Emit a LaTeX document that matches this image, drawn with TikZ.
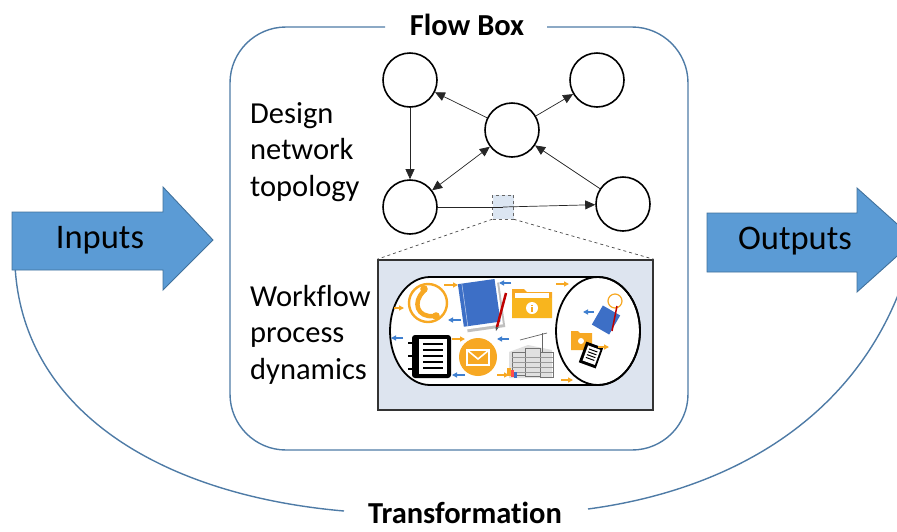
\documentclass[tikz,border=0pt]{standalone}
\usepackage{fontspec}
\setmainfont{Carlito}[Ligatures=CommonOff]
\usetikzlibrary{arrows.meta,calc}
\definecolor{arrowblue}{HTML}{5B9BD5}
\definecolor{arrowedge}{HTML}{41719C}
\definecolor{framecol}{HTML}{4E7BA6}
\definecolor{wffill}{HTML}{DDE4EF}
\definecolor{iconorange}{HTML}{F7A823}
\definecolor{iconblue}{HTML}{3D6FC6}
\definecolor{arrblue}{HTML}{3F7FCF}
\definecolor{sqfill}{HTML}{DCE6F2}
\begin{document}
\begin{tikzpicture}[x=1pt,y=-1pt,
  bigarrow/.style={fill=arrowblue, draw=arrowedge, line width=0.9pt},
  bigtext/.style={font=\fontsize{34.5}{40}\selectfont},
  sidetext/.style={font=\fontsize{30.5}{36.5}\selectfont, align=left, inner sep=0pt},
  titletext/.style={font=\fontsize{30.5}{34}\selectfont\bfseries, inner sep=0pt},
  netnode/.style={circle, draw=black, line width=1.6pt, minimum size=54pt, inner sep=0pt, fill=white},
  netedge/.style={line width=0.7pt, draw=black!85, -{Triangle[length=10pt,width=9pt]}},
  frameline/.style={draw=framecol, line width=1.4pt},
  smallor/.style={draw=iconorange, line width=1.3pt, -{Triangle[length=5pt,width=5pt]}},
  smallbl/.style={draw=arrblue, line width=1.3pt, -{Triangle[length=5pt,width=5pt]}},
]
\useasboundingbox (0,0) rectangle (897,531);
\clip (0,0) rectangle (897,531);

% flow box frame with a gap for its title
\draw[frameline, rounded corners=56] (385,27) -- (230,27) -- (230,450) -- (688,450) -- (688,27) -- (547,27);
\node[titletext] (flowtitle) at (467,25) {Flow Box};

% transformation arc
\node[titletext, anchor=base] (trans) at (465,523) {Transformation};
\draw[frameline] (15,265) .. controls (22,410) and (160,495) .. (344,511);
\draw[frameline] (588,509) .. controls (730,490) and (850,420) .. (900,290);

% input and output arrows
\draw[bigarrow] (12,212) -- (163,212) -- (163,187) -- (213,240) -- (163,290) -- (163,270) -- (12,270) -- cycle;
\node[bigtext] (inputs) at (100,240) {Inputs};
\draw[bigarrow] (707,213) -- (857,213) -- (857,188) -- (915,240) -- (857,292) -- (857,272) -- (707,272) -- cycle;
\node[bigtext] (outputs) at (795,241) {Outputs};

% side labels
\node[sidetext, anchor=north west] (design) at (250,102) {Design\\network\\topology};
\node[sidetext, anchor=north west] (workflow) at (250,285) {Workflow\\process\\dynamics};

% network topology
\node[netnode] (tl) at (410,80) {};
\node[netnode] (tr) at (597,80) {};
\node[netnode] (c) at (512,130) {};
\node[netnode] (bl) at (410,207) {};
\node[netnode] (br) at (623,204) {};
\node[draw=black!60, dashed, fill=sqfill, minimum width=21pt, minimum height=24pt, inner sep=0pt, line width=0.5pt] (sq) at (503,207) {};

\draw[netedge] (c) -- (tl);
\draw[netedge] (c) -- (tr);
\draw[netedge] (tl) -- (bl);
\draw[netedge, {Triangle[length=10pt,width=9pt]}-{Triangle[length=10pt,width=9pt]}] (bl) -- (c);
\draw[netedge] (br) -- (c);
\draw[line width=0.7pt, black!85] (bl) -- (sq.center);
\draw[netedge] (sq.center) -- (br);

% workflow panel
\node[draw=black!80, fill=wffill, line width=1.5pt, minimum width=275pt, minimum height=150pt, inner sep=0pt] (wf) at (515.5,335) {};
\draw[dashed, black!70, line width=0.7pt] (sq.south west) -- (wf.north west);
\draw[dashed, black!70, line width=0.7pt] (sq.south east) -- (wf.north east);

\draw[fill=white, line width=1.8pt] (430,277) -- (598,277)
  arc[start angle=-90, end angle=90, x radius=42, y radius=54] -- (430,385)
  arc[start angle=90, end angle=270, x radius=40, y radius=54] -- cycle;
\draw[line width=1.8pt] (598,331) ellipse [x radius=42, y radius=54];

% phone
\draw[iconorange, line width=2.4pt] (428,303) circle (19);
\draw[iconorange, line width=4.5pt, line cap=round] (424,291) .. controls (412,302) and (417,318) .. (434,316);
\fill[iconorange] (424,289) circle (3.8);
\fill[iconorange] (436,316) circle (3.8);

% book with pencil
\begin{scope}[shift={(482,305)}, rotate=8]
  \fill[black!25] (-18,-20) rectangle (20,25);
  \fill[white] (-19,-21) rectangle (18,22);
  \fill[iconblue] (-21,-24) rectangle (16,19);
  \draw[white!70!iconblue, line width=0.5pt] (-17,-24) -- (-17,19);
\end{scope}
\draw[red!75!black, line width=2.5pt] (497,327) -- (506,293);
\fill[black!70] (496,331) -- (495.5,327) -- (498.5,327.5) -- cycle;

% folder
\fill[iconorange] (512,289) -- (524,289) -- (527,292) -- (552,292) -- (552,318) -- (512,318) -- cycle;
\fill[white] (515,293) rectangle (549,299);
\fill[iconorange!85!yellow] (512,298) -- (552,298) -- (552,318) -- (512,318) -- cycle;
\fill[white] (532,308) circle (6);
\fill[iconorange] (531,304.5) rectangle (533,306);
\fill[iconorange] (531,307) rectangle (533,312);

% notebook
\fill[black, rounded corners=3pt] (412,335) rectangle (451,378);
\fill[white] (419,339) rectangle (447,374);
\foreach \yy in {344,350,356,362,368} \draw[black, line width=2.6pt] (423,\yy) -- (443,\yy);
\foreach \yy in {343,356,369} \draw[black, line width=2pt] (408,\yy) -- (414,\yy);

% envelope
\fill[iconorange] (478,357) circle (19);
\draw[white, line width=1.6pt] (467,350) rectangle (489,365);
\draw[white, line width=1.6pt] (467,350) -- (478,359) -- (489,350);

% construction sketch
\begin{scope}
  \fill[black!12] (509,352) -- (528,345) -- (552,350) -- (552,378) -- (509,378) -- cycle;
  \draw[black!55, line width=0.6pt] (512,352) rectangle (525,375);
  \draw[black!55, line width=0.6pt] (525,348) rectangle (540,376);
  \draw[black!55, line width=0.6pt] (540,352) rectangle (553,377);
  \foreach \yy in {357,362,367,372} \draw[black!40, line width=0.4pt] (512,\yy) -- (553,\yy);
  \draw[black!60, line width=0.7pt] (520,340) -- (547,333);
  \draw[black!60, line width=0.7pt] (542,333) -- (542,352);
  \fill[iconorange] (507,368) rectangle (511,376);
  \fill[red!70] (511,370) rectangle (514,377);
  \fill[iconblue] (514,372) rectangle (517,378);
\end{scope}

% items inside the end cap
\draw[iconorange, line width=1.2pt] (615,301) circle (7);
\begin{scope}[shift={(606,320)}, rotate=-30]
  \fill[iconblue] (-10,-11) rectangle (10,11);
\end{scope}
\draw[red!75!black, line width=1.5pt] (612,331) -- (617,306);
\fill[iconorange] (571,331) -- (578,331) -- (580,333) -- (592,333) -- (592,350) -- (571,350) -- cycle;
\fill[white] (581,341) circle (3);
\begin{scope}[shift={(591,355)}, rotate=-20]
  \fill[black] (-9,-11) rectangle (9,11);
  \fill[white] (-6,-8) rectangle (7,8);
  \foreach \yy in {-5,-2,1,4} \draw[black, line width=1pt] (-4,\yy) -- (5,\yy);
\end{scope}

% small flow arrows
\draw[smallor] (444,285) -- (458,285);
\draw[smallor] (556,284) -- (569,284);
\draw[smallor] (394,308) -- (404,308);
\draw[smallor] (452,339) -- (465,339);
\draw[smallor] (497,375) -- (509,375);
\draw[smallor] (561,380) -- (573,380);
\draw[smallor] (598,347) -- (609,347);
\draw[smallbl] (511,283) -- (499,283);
\draw[smallbl] (461,320) -- (448,320);
\draw[smallbl] (403,338) -- (391,338);
\draw[smallbl] (509,339) -- (497,339);
\draw[smallbl] (465,375) -- (452,375);
\draw[smallbl] (594,312) -- (583,312);
\end{tikzpicture}
\end{document}
